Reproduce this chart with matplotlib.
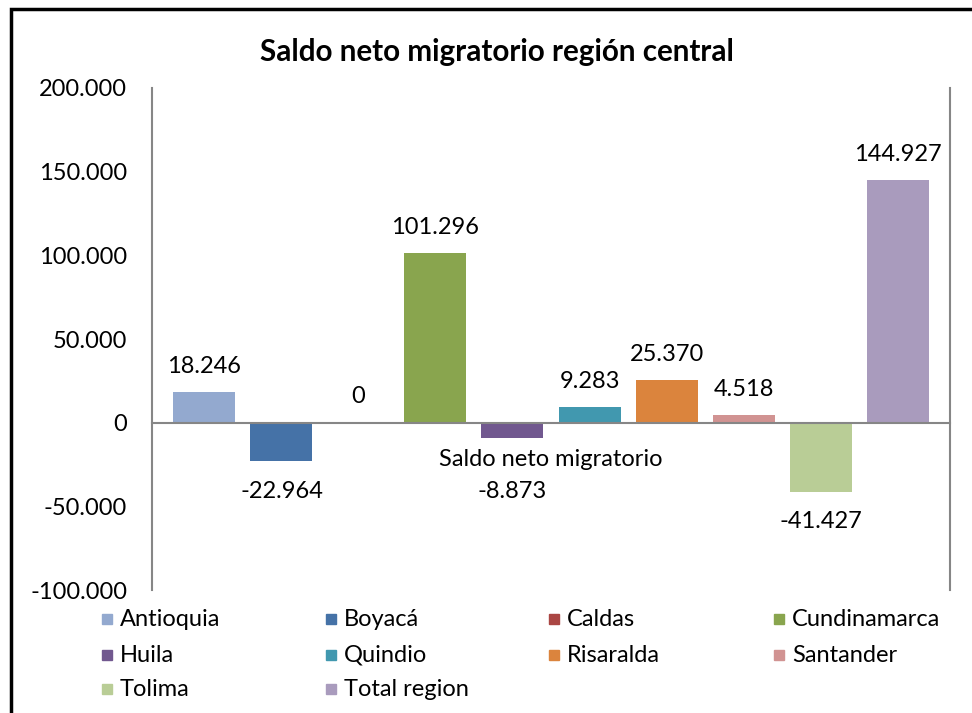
import matplotlib
matplotlib.use('Agg')
import matplotlib.pyplot as plt
from matplotlib.patches import Rectangle
from matplotlib.ticker import FuncFormatter

plt.rcParams['font.family'] = ['Lato', 'DejaVu Sans']

regions = ['Antioquia', 'Boyacá', 'Caldas', 'Cundinamarca', 'Huila',
           'Quindio', 'Risaralda', 'Santander', 'Tolima', 'Total region']
saldo = [18246, -22964, 0, 101296, -8873, 9283, 25370, 4518, -41427, 144927]
colors = ['#93A9CF', '#4572A7', '#AA4643', '#89A54E', '#71588F',
          '#4198AF', '#DB843D', '#D19392', '#B9CD96', '#A99BBD']
category = 'Saldo neto migratorio'
title = 'Saldo neto migratorio región central'


def miles(v, pos=None):
    return f'{v:,.0f}'.replace(',', '.')


fig = plt.figure(figsize=(9.72, 7.13), dpi=100)
ax = fig.add_axes([152/972, 1 - 590/713, 798/972, 502/713])

step = 0.0965
width = 0.0777
n = len(regions)
for i, (name, val, c) in enumerate(zip(regions, saldo, colors)):
    x = 0.5 + (i - (n - 1) / 2) * step
    ax.bar(x, val, width=width, color=c, label=name)
    if val >= 0:
        ax.annotate(miles(val), (x, val), xytext=(0, 11), textcoords='offset points',
                    ha='center', va='bottom', fontsize=17)
    else:
        # keep negative labels clear of the category label (as Excel does)
        ax.annotate(miles(val), (x, min(val, -23000)), xytext=(0, -14),
                    textcoords='offset points', ha='center', va='top', fontsize=17)

ax.set_xlim(0, 1)
ax.set_ylim(-100000, 200000)
ax.set_yticks(range(-100000, 200001, 50000))
ax.yaxis.set_major_formatter(FuncFormatter(miles))
ax.tick_params(axis='y', length=0, pad=18, labelsize=17)
ax.set_xticks([0.5])
ax.set_xticklabels([category])
ax.tick_params(axis='x', length=0, pad=19, labelsize=17)

ax.spines['top'].set_visible(False)
ax.spines['bottom'].set_position(('data', 0))
for s in ['bottom', 'left', 'right']:
    ax.spines[s].set_color('#868686')
    ax.spines[s].set_linewidth(1.5)

fig.text(497/972, 1 - 52/713, title, ha='center', va='center',
         fontsize=21.3, fontweight='bold')

# legend, 4 columns like the original
col_x = [102, 326, 549, 774]
row_y = [619, 655, 689]
for i, (name, c) in enumerate(zip(regions, colors)):
    r, k = divmod(i, 4)
    x0 = col_x[k] / 972
    y0 = 1 - row_y[r] / 713
    fig.add_artist(Rectangle((x0, y0 - 5/713), 10/972, 10/713,
                             transform=fig.transFigure, color=c))
    fig.text(x0 + 18/972, y0, name, ha='left', va='center', fontsize=17)

# outer chart border
fig.add_artist(Rectangle((11/972, -0.05), 1.1, 1 - 9/713 + 0.05,
                         transform=fig.transFigure, fill=False,
                         edgecolor='black', linewidth=2.5))

fig.savefig('out.png', dpi=100)
